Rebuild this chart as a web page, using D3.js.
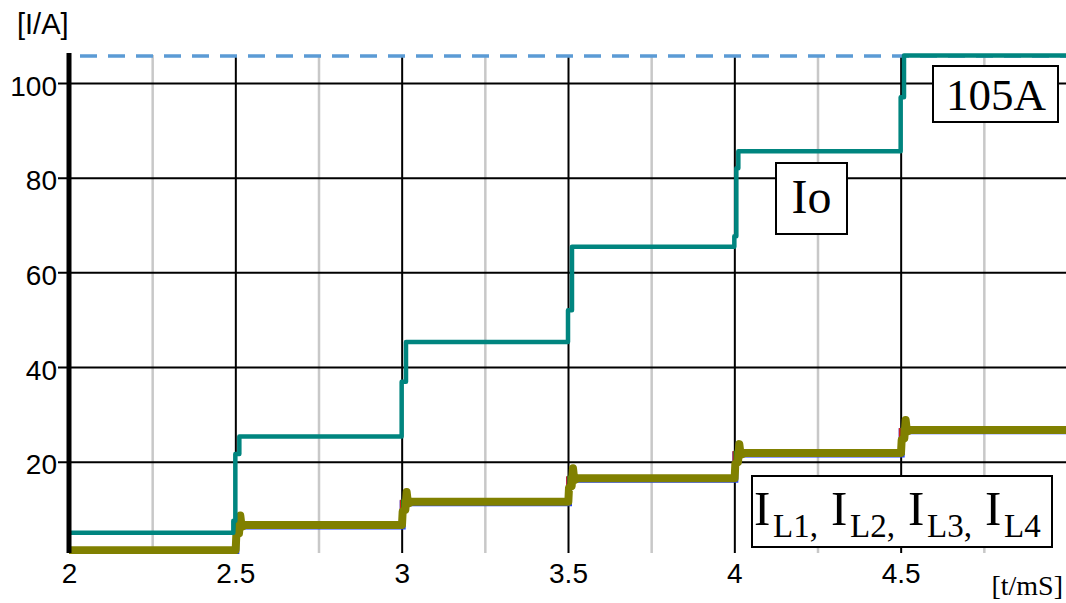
<!DOCTYPE html>
<html>
<head>
<meta charset="utf-8">
<script src="https://cdn.jsdelivr.net/npm/d3@7"></script>
<style>
  body { margin: 0; background: #fff; }
  svg { display: block; }
  .tick text { font-family: 'Liberation Sans', Arial, sans-serif; font-size: 28px; fill: #000; }
  .serif { font-family: 'Liberation Serif', 'Times New Roman', serif; fill: #000; }
</style>
</head>
<body>
<svg id="chart" width="1066" height="603"></svg>
<script>
// Axis ticks
const xTicks = [2, 2.5, 3, 3.5, 4, 4.5];
const xMinor = [2.25, 2.75, 3.25, 3.75, 4.25, 4.75];
const yTicks = [20, 40, 60, 80, 100];
const limit = 105.7;   // dashed 105A line

// Io, step-after points [t/ms, I/A]
const io = [
  [2.0, 5.0], [2.494, 7.5], [2.5, 21.6], [2.512, 25.3],
  [3.0, 36.9], [3.013, 45.3],
  [3.5, 52.0], [3.512, 65.4],
  [4.0, 67.6], [4.006, 82.0], [4.012, 85.6],
  [4.5, 97.0], [4.51, 105.8], [5.0, 105.8]
];

// Inductor currents IL1..IL3 (step-after), mostly hidden below IL4
const il1 = [[2.0, 1.1], [2.503, 6.3], [3.003, 11.2], [3.503, 16.2], [4.003, 21.5], [4.503, 26.4], [5.0, 26.4]];
const il2 = [[2.0, 1.4], [2.5005, 6.6], [3.0005, 11.5], [3.5005, 16.5], [4.0005, 21.8], [4.5005, 26.7], [5.0, 26.7]];
const il3 = [[2.0, 1.4], [2.504, 6.7], [3.004, 11.6], [3.504, 16.6], [4.004, 21.9], [4.506, 26.8], [5.0, 26.8]];
// IL4, drawn on top (with the overshoot at each step)
const il4 = [
  [2.0, 1.3], [2.501, 1.3], [2.503, 4.5], [2.511, 4.8], [2.515, 8.6], [2.519, 6.2], [2.53, 6.6],
  [3.001, 6.6], [3.003, 9.5], [3.011, 9.8], [3.015, 13.6], [3.019, 11.1], [3.03, 11.5],
  [3.501, 11.5], [3.503, 14.5], [3.511, 14.8], [3.515, 18.6], [3.519, 16.1], [3.53, 16.5],
  [4.001, 16.5], [4.003, 19.6], [4.011, 19.9], [4.015, 23.7], [4.019, 21.4], [4.03, 21.8],
  [4.501, 21.8], [4.503, 24.6], [4.511, 24.9], [4.515, 28.8], [4.519, 26.3], [4.53, 26.7],
  [5.0, 26.7]
];

const W = 1066;
const plotLeft = 69, plotTop = 53, plotBottom = 553;
const svg = d3.select('#chart');

const x = d3.scaleLinear().domain([2, 5]).range([plotLeft, 1067]);
const y = d3.scaleLinear().domain([0, 100]).range([556.3, 83]);

// Vertical grid: minor gray, major black
svg.append('g')
  .attr('transform', `translate(0,${plotBottom})`)
  .call(d3.axisBottom(x).tickValues(xMinor).tickSize(-(plotBottom - 55)).tickFormat(''))
  .call(g => g.select('.domain').remove())
  .call(g => g.selectAll('line').attr('stroke', '#c8c8c8').attr('stroke-width', 2.5));
svg.append('g')
  .attr('transform', `translate(0,${plotBottom})`)
  .call(d3.axisBottom(x).tickValues(xTicks.slice(1)).tickSize(-(plotBottom - 55)).tickFormat(''))
  .call(g => g.select('.domain').remove())
  .call(g => g.selectAll('line').attr('stroke', '#000').attr('stroke-width', 2));

// Horizontal grid + y tick labels (ticks stick out left of the axis)
svg.append('g')
  .attr('transform', `translate(${W},0)`)
  .call(d3.axisLeft(y).tickValues(yTicks).tickSize(W - 58).tickPadding(1))
  .call(g => g.select('.domain').remove())
  .call(g => g.selectAll('line').attr('stroke', '#000').attr('stroke-width', 2))
  .call(g => g.selectAll('text').attr('dy', '0.43em'));

// x tick labels
svg.append('g')
  .attr('transform', `translate(0,${plotBottom})`)
  .call(d3.axisBottom(x).tickValues(xTicks).tickSize(0).tickFormat(d3.format('')))
  .call(g => g.select('.domain').remove())
  .call(g => g.selectAll('text').attr('y', 30).attr('dy', 0));

// Clip for the series
svg.append('defs').append('clipPath')
  .attr('id', 'clip')
  .append('rect')
  .attr('x', plotLeft).attr('y', 48)
  .attr('width', W - plotLeft).attr('height', plotBottom - 48 + 1);

const plot = svg.append('g').attr('clip-path', 'url(#clip)');
const stepLine = d3.line().x(d => x(d[0])).y(d => y(d[1])).curve(d3.curveStepAfter);
const line = d3.line().x(d => x(d[0])).y(d => y(d[1]));

// 105A limit
plot.append('path')
  .attr('d', line([[2, limit], [5, limit]]))
  .attr('fill', 'none')
  .attr('stroke', '#5b9bd5')
  .attr('stroke-width', 3.5)
  .attr('stroke-dasharray', '17,11')
  .attr('stroke-dashoffset', 17);

// IL series
[[il1, '#1f3fff', 6], [il2, '#d02020', 4], [il3, '#1a8a1a', 4]].forEach(([s, c, w]) => {
  plot.append('path')
    .attr('d', stepLine(s))
    .attr('fill', 'none')
    .attr('stroke', c)
    .attr('stroke-width', w);
});
plot.append('path')
  .attr('d', line(il4))
  .attr('fill', 'none')
  .attr('stroke', '#808000')
  .attr('stroke-width', 8)
  .attr('stroke-linejoin', 'round');

// Io
plot.append('path')
  .attr('d', stepLine(io))
  .attr('fill', 'none')
  .attr('stroke', '#00857f')
  .attr('stroke-width', 4.5)
  .attr('stroke-linejoin', 'round');

// Left axis line
svg.append('line')
  .attr('x1', plotLeft).attr('x2', plotLeft)
  .attr('y1', plotTop).attr('y2', plotBottom)
  .attr('stroke', '#000')
  .attr('stroke-width', 5);

// Axis titles
svg.append('text')
  .attr('x', 17).attr('y', 34)
  .style('font-family', "'Liberation Sans', Arial, sans-serif")
  .style('font-size', '29px')
  .text('[I/A]');
svg.append('text')
  .attr('class', 'serif')
  .attr('x', 1063).attr('y', 595)
  .attr('text-anchor', 'end')
  .style('font-size', '28px')
  .text('[t/mS]');

// Label boxes
function box(bx, by, bw, bh) {
  svg.append('rect')
    .attr('x', bx).attr('y', by)
    .attr('width', bw).attr('height', bh)
    .attr('fill', '#fff')
    .attr('stroke', '#000')
    .attr('stroke-width', 2);
}
box(933, 66, 125, 56);
svg.append('text')
  .attr('class', 'serif')
  .attr('x', 996).attr('y', 110)
  .attr('text-anchor', 'middle')
  .style('font-size', '45px')
  .text('105A');

box(776, 163, 71, 71);
svg.append('text')
  .attr('class', 'serif')
  .attr('x', 811.5).attr('y', 213)
  .attr('text-anchor', 'middle')
  .style('font-size', '48px')
  .text('Io');

box(752, 476, 300, 71);
const subs = ['L1,', 'L2,', 'L3,', 'L4'];
const ilText = svg.append('g');
subs.forEach((s, i) => {
  const x0 = 754 + i * 77;
  ilText.append('text')
    .attr('class', 'serif')
    .attr('x', x0).attr('y', 525)
    .style('font-size', '49px')
    .text('I');
  ilText.append('text')
    .attr('class', 'serif')
    .attr('x', x0 + 19).attr('y', 537)
    .style('font-size', '33px')
    .text(s);
});
</script>
</body>
</html>
